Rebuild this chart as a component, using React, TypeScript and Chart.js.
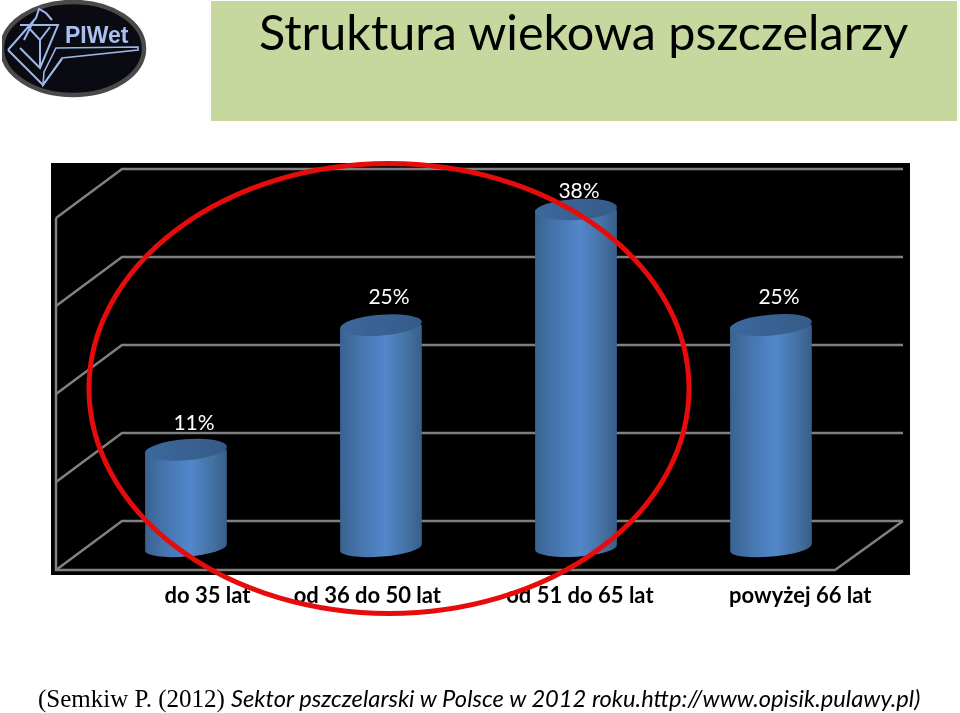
import React, { useEffect, useRef } from "react";
import { Chart, registerables } from "chart.js";

Chart.register(...registerables);

const categories = ["do 35 lat", "od 36 do 50 lat", "od 51 do 65 lat", "powyżej 66 lat"];
const shares = [11, 25, 38, 25];
const categoryLabelPositions = [0.11, 0.93, 2.02, 3.15];
const wallTicks = [0, 10, 20, 30, 40];
const valueLabelDx = [8, 8, 3, 8];
const valueLabelDy = [-27, -28, -18, -28];
const ellipseTilt = [-0.08, -0.08, -0.06, -0.09];

const BAR_RX = 41;
const BAR_RY = 10.5;
const BASE_RY = 9;

const frame = { left: 51, top: 163, right: 910, bottom: 575 };
const wall = { left: 122, right: 903, dx: -66, dy: 49, floorRight: 835 };

function barGradient(ctx: CanvasRenderingContext2D, x: number) {
  const g = ctx.createLinearGradient(x - BAR_RX, 0, x + BAR_RX, 0);
  g.addColorStop(0, "#3a6291");
  g.addColorStop(0.25, "#4675ae");
  g.addColorStop(0.55, "#5287cb");
  g.addColorStop(0.8, "#4673a6");
  g.addColorStop(1, "#385e8b");
  return g;
}

const scenePlugin = {
  id: "scene",
  beforeDraw(chart: any) {
    const { ctx } = chart;
    const y2 = chart.scales.wall;
    ctx.save();
    ctx.fillStyle = "#000";
    ctx.fillRect(frame.left, frame.top, frame.right - frame.left, frame.bottom - frame.top);
    ctx.strokeStyle = "#808080";
    ctx.lineWidth = 2.5;
    wallTicks.forEach((t) => {
      const y = y2.getPixelForValue(t);
      ctx.beginPath();
      ctx.moveTo(wall.left + wall.dx, y + wall.dy);
      ctx.lineTo(wall.left, y);
      ctx.lineTo(wall.right, y);
      ctx.stroke();
    });
    const y0 = y2.getPixelForValue(0);
    const yTop = y2.getPixelForValue(40);
    ctx.beginPath();
    ctx.moveTo(wall.left + wall.dx, yTop + wall.dy);
    ctx.lineTo(wall.left + wall.dx, y0 + wall.dy);
    ctx.lineTo(wall.floorRight, y0 + wall.dy);
    ctx.lineTo(wall.right, y0);
    ctx.stroke();
    ctx.restore();
  },
  beforeDatasetsDraw(chart: any) {
    const { ctx } = chart;
    const yScale = chart.scales.y;
    const baseY = yScale.getPixelForValue(0);
    ctx.save();
    ctx.beginPath();
    chart.getDatasetMeta(0).data.forEach((bar: any, i: number) => {
      const t = ellipseTilt[i];
      ctx.moveTo(bar.x - BAR_RX, bar.y);
      ctx.ellipse(bar.x, bar.y, BAR_RX, BAR_RY, t, Math.PI, 2 * Math.PI);
      ctx.ellipse(bar.x, baseY, BAR_RX, BASE_RY, t, 0, Math.PI);
      ctx.closePath();
    });
    ctx.clip();
  },
  afterDatasetsDraw(chart: any) {
    const { ctx } = chart;
    ctx.restore();
    ctx.save();
    chart.getDatasetMeta(0).data.forEach((bar: any, i: number) => {
      const g = ctx.createLinearGradient(bar.x - BAR_RX, 0, bar.x + BAR_RX, 0);
      g.addColorStop(0, "#3d689c");
      g.addColorStop(1, "#355b88");
      ctx.fillStyle = g;
      ctx.beginPath();
      ctx.ellipse(bar.x, bar.y, BAR_RX, BAR_RY, ellipseTilt[i], 0, 2 * Math.PI);
      ctx.fill();
      ctx.fillStyle = "#fff";
      ctx.font = "21px Lato";
      ctx.textAlign = "center";
      ctx.textBaseline = "middle";
      ctx.fillText(`${shares[i]}%`, bar.x + valueLabelDx[i], bar.y + valueLabelDy[i]);
    });
    ctx.restore();
  },
  afterDraw(chart: any) {
    const { ctx } = chart;
    ctx.save();
    ctx.strokeStyle = "#e60c0c";
    ctx.lineWidth = 5;
    ctx.beginPath();
    ctx.ellipse(389, 388.5, 300, 225, 0, 0, 2 * Math.PI);
    ctx.stroke();
    ctx.restore();
  },
};

function Logo() {
  return (
    <svg width={150} height={100} style={{ position: "absolute", left: 0, top: 0 }}>
      <defs>
        <clipPath id="lc"><rect x={2} y={0} width={148} height={100} /></clipPath>
      </defs>
      <g clipPath="url(#lc)">
        <ellipse cx={73} cy={48.5} rx={71} ry={46.5} fill="#0a0a12" stroke="#4a4a4a" strokeWidth={4.5} />
        <g fill="none" stroke="#9db8e8" strokeWidth={2}>
          <path d="M8 50 L36 18 L39 9 L46 13 L52 20 M20 25 L58 25 L40 68 L20 48 M28 27 L40 40 L50 27 M40 40 L40 66 M8 50 L43 85 L62 59 M34 20 L24 40" />
        </g>
        <path d="M44 72 L56 48 L138 47 L138 50 L62 58 L43 85 Z" fill="none" stroke="#9db8e8" strokeWidth={1.6} />
        <text x={65} y={43} fontFamily="Liberation Sans" fontWeight="bold" fontSize={23} fill="#a9c0ee">PIWet</text>
      </g>
    </svg>
  );
}

export default function App() {
  const ref = useRef<HTMLCanvasElement>(null);
  useEffect(() => {
    document.body.style.margin = "0";
    const chart = new Chart(ref.current!, {
      type: "bar",
      data: {
        labels: categories,
        datasets: [
          {
            data: shares,
            base: -1.4,
            barPercentage: 0.42,
            categoryPercentage: 1,
            xAxisID: "x",
            yAxisID: "y",
            backgroundColor: (c: any) => {
              const { chart: ch, dataIndex } = c;
              if (!ch.chartArea || dataIndex === undefined) return "#4f82c6";
              return barGradient(ch.ctx, ch.scales.x.getPixelForValue(dataIndex));
            },
          },
        ],
      } as any,
      options: {
        responsive: false,
        animation: false,
        layout: { padding: { left: 88.5, right: 91.5, top: 169, bottom: 0 } },
        plugins: { legend: { display: false }, tooltip: { enabled: false } },
        scales: {
          x: { type: "category", display: false, offset: true },
          labelsAxis: {
            type: "linear",
            axis: "x",
            position: "bottom",
            offset: false,
            min: -0.5,
            max: 3.5,
            grid: { display: false, drawTicks: false, offset: false },
            border: { display: false },
            afterBuildTicks: (s: any) => {
              s.ticks = categoryLabelPositions.map((value) => ({ value }));
            },
            afterFit: (s: any) => {
              s.height = 152;
            },
            ticks: {
              autoSkip: false,
              maxRotation: 0,
              padding: 22,
              color: "#000",
              font: { family: "Lato", weight: "bold", size: 22 },
              callback: (_v: any, i: number) => categories[i],
            },
          },
          y: { display: false, min: -1.5, max: 42.54 },
          wall: { axis: "y", position: "left", display: false, min: -4.545, max: 40 },
        },
      } as any,
      plugins: [scenePlugin],
    });
    return () => chart.destroy();
  }, []);
  return (
    <div style={{ position: "relative", width: 960, height: 713, overflow: "hidden", background: "#fff" }}>
      <canvas ref={ref} width={960} height={713} style={{ position: "absolute", left: 0, top: 0, display: "block" }} />
      <div style={{ position: "absolute", left: 211, top: 1, width: 746, height: 120, background: "#c6d89e" }} />
      <div
        style={{
          position: "absolute",
          left: 259,
          top: 1,
          fontFamily: "Lato",
          fontSize: 48.5,
          lineHeight: "60px",
          color: "#000",
          whiteSpace: "nowrap",
        }}
      >
        Struktura wiekowa pszczelarzy
      </div>
      <Logo />
      <div
        style={{
          position: "absolute",
          left: 38,
          top: 683,
          fontSize: 25,
          lineHeight: "30px",
          whiteSpace: "nowrap",
          color: "#000",
          fontFamily: "Liberation Serif",
        }}
      >
        (Semkiw P. (2012) <span style={{ fontFamily: "Lato", fontStyle: "italic", fontSize: 23.7 }}>Sektor pszczelarski w Polsce w 2012 roku.http://www.opisik.pulawy.pl)</span>
      </div>
    </div>
  );
}
